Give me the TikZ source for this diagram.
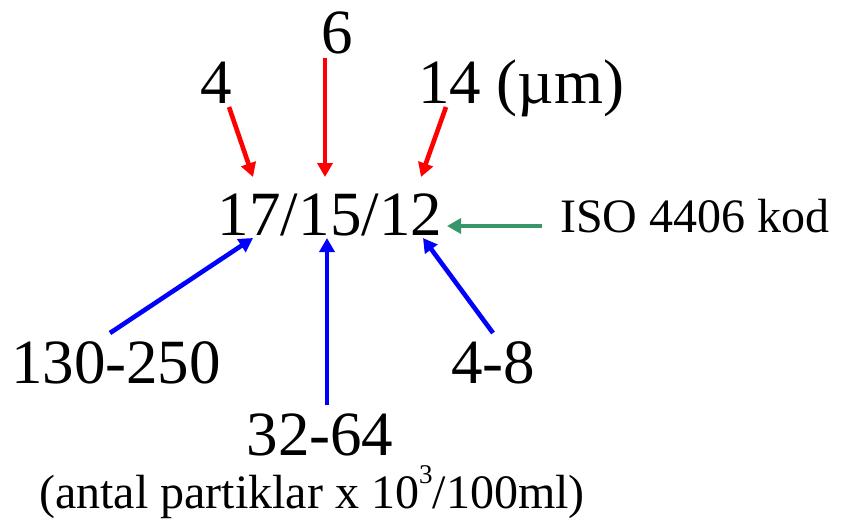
\documentclass[tikz,border=0pt]{standalone}
\usepackage{fontspec}
\setmainfont{Liberation Serif}
\usetikzlibrary{arrows.meta}
\definecolor{isogreen}{RGB}{56,150,104}
\tikzset{
  bigtxt/.style={font=\fontsize{63}{70}\selectfont, inner sep=0pt},
  midtxt/.style={font=\fontsize{48}{54}\selectfont, inner sep=0pt},
  conn/.style={line width=4.6pt, -{Triangle[width=15pt,length=14pt]}},
  redarr/.style={conn, draw=red, fill=red},
  bluearr/.style={conn, draw=blue, fill=blue},
  greenarr/.style={conn, draw=isogreen, fill=isogreen}
}
\begin{document}
\begin{tikzpicture}[x=1pt,y=-1pt]
\useasboundingbox (0,0) rectangle (846,522);
\node[bigtxt, anchor=base] (six) at (337,53) {6};
\node[bigtxt, anchor=base] (four) at (216,103) {4};
\node[bigtxt, anchor=base west] (fourteen) at (418,103) {14 (µm)};
\node[bigtxt, anchor=base] (code) at (330,235) {17/15/12};
\node[midtxt, anchor=base west] (iso) at (560,232) {ISO 4406 kod};
\node[bigtxt, anchor=base] (a) at (116,383) {130-250};
\node[bigtxt, anchor=base] (c) at (493,383) {4-8};
\node[bigtxt, anchor=base] (b) at (320,455) {32-64};
\node[midtxt, anchor=base] (unit) at (312,508) {(antal partiklar x 10\raisebox{25pt}{\fontsize{27}{30}\selectfont 3}/100ml)};
% endpoints
\coordinate (r1s) at (229,107); \coordinate (r1e) at (253,177);
\coordinate (r2s) at (325,58);  \coordinate (r2e) at (325,177);
\coordinate (r3s) at (446,107); \coordinate (r3e) at (421,177);
\coordinate (gs) at (542,226);  \coordinate (ge) at (447,226);
\coordinate (b1s) at (110,333); \coordinate (b1e) at (253,238);
\coordinate (b2s) at (327,405); \coordinate (b2e) at (327,238);
\coordinate (b3s) at (493,333); \coordinate (b3e) at (423,238);
\draw[redarr] (r1s) -- (r1e);
\draw[redarr] (r2s) -- (r2e);
\draw[redarr] (r3s) -- (r3e);
\draw[greenarr] (gs) -- (ge);
\draw[bluearr] (b1s) -- (b1e);
\draw[bluearr] (b2s) -- (b2e);
\draw[bluearr] (b3s) -- (b3e);
\end{tikzpicture}
\end{document}
